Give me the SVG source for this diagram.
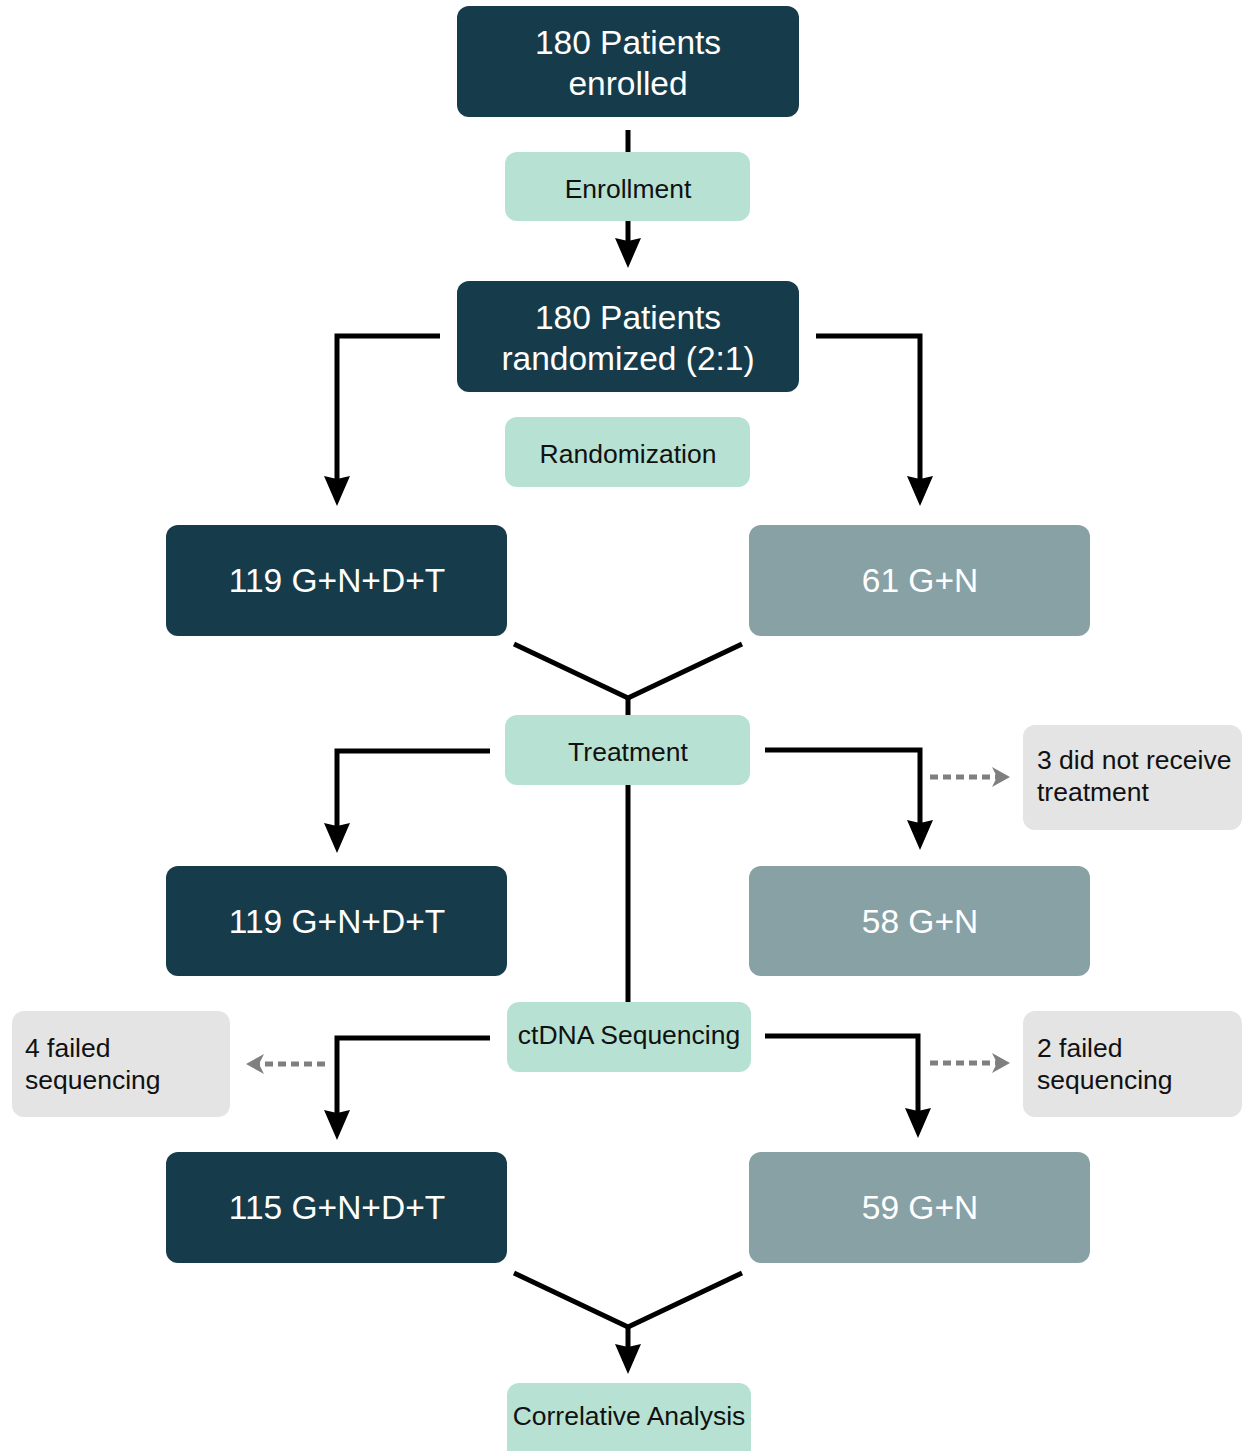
<svg xmlns="http://www.w3.org/2000/svg" width="1244" height="1451" viewBox="0 0 1244 1451">
<style>
.dark{fill:#163c4b}
.slate{fill:#87a1a5}
.mint{fill:#b7e2d3}
.grey{fill:#e4e4e4}
.tw{font-family:"Liberation Sans",Arial,sans-serif;font-size:33.5px;fill:#ffffff;text-anchor:middle}
.tg{font-family:"Liberation Sans",Arial,sans-serif;font-size:26.5px;fill:#111111;text-anchor:middle}
.tl{font-family:"Liberation Sans",Arial,sans-serif;font-size:26.5px;fill:#111111}
.ln{fill:none;stroke:#000;stroke-width:5;stroke-linejoin:miter}
.dl{fill:none;stroke:#7f7f7f;stroke-width:5;stroke-dasharray:8 5}
</style>
<defs>
<marker id="ah" markerUnits="userSpaceOnUse" viewBox="0 0 30 26" refX="20" refY="13" markerWidth="30" markerHeight="26" orient="auto">
<path d="M0,0 L30,13 L0,26 L3,13 z" fill="#000"/>
</marker>
<marker id="ahg" markerUnits="userSpaceOnUse" viewBox="0 0 18 20" refX="6" refY="10" markerWidth="18" markerHeight="20" orient="auto">
<path d="M0,0 L18,10 L0,20 L5,10 z" fill="#7f7f7f"/>
</marker>
</defs>

<g id="connectors">
<path class="ln" d="M628,130 V152"/>
<path class="ln" d="M628,221 V258" marker-end="url(#ah)"/>
<path class="ln" d="M440,336 H337 V496" marker-end="url(#ah)"/>
<path class="ln" d="M816,336 H920 V496" marker-end="url(#ah)"/>
<path class="ln" d="M514,644 L628,698 L742,644"/>
<path class="ln" d="M628,698 V715"/>
<path class="ln" d="M490,751 H337 V843" marker-end="url(#ah)"/>
<path class="ln" d="M765,750 H920 V840" marker-end="url(#ah)"/>
<path class="dl" d="M930,777 H998" marker-end="url(#ahg)"/>
<path class="ln" d="M628,785 V1002"/>
<path class="ln" d="M490,1038 H337 V1130" marker-end="url(#ah)"/>
<path class="dl" d="M325,1064 H258" marker-end="url(#ahg)"/>
<path class="ln" d="M765,1036 H918 V1128" marker-end="url(#ah)"/>
<path class="dl" d="M930,1063 H998" marker-end="url(#ahg)"/>
<path class="ln" d="M514,1273 L628,1327 L742,1273"/>
<path class="ln" d="M628,1327 V1364" marker-end="url(#ah)"/>
</g>

<g id="enrolled">
<rect class="dark" x="457" y="6" width="342" height="111" rx="12"/>
<text class="tw" x="628" y="54">180 Patients</text>
<text class="tw" x="628" y="95">enrolled</text>
</g>
<g id="enrollment">
<rect class="mint" x="505" y="152" width="245" height="69" rx="12"/>
<text class="tg" x="628" y="198">Enrollment</text>
</g>
<g id="randomized">
<rect class="dark" x="457" y="281" width="342" height="111" rx="12"/>
<text class="tw" x="628" y="329">180 Patients</text>
<text class="tw" x="628" y="370">randomized (2:1)</text>
</g>
<g id="randomization">
<rect class="mint" x="505" y="417" width="245" height="70" rx="12"/>
<text class="tg" x="628" y="463">Randomization</text>
</g>
<g id="arm1-randomized">
<rect class="dark" x="166" y="525" width="341" height="111" rx="12"/>
<text class="tw" x="337" y="592">119 G+N+D+T</text>
</g>
<g id="arm2-randomized">
<rect class="slate" x="749" y="525" width="341" height="111" rx="12"/>
<text class="tw" x="920" y="592">61 G+N</text>
</g>
<g id="treatment">
<rect class="mint" x="505" y="715" width="245" height="70" rx="12"/>
<text class="tg" x="628" y="761">Treatment</text>
</g>
<g id="no-treatment">
<rect class="grey" x="1023" y="725" width="219" height="105" rx="12"/>
<text class="tl" x="1037" y="769">3 did not receive</text>
<text class="tl" x="1037" y="801">treatment</text>
</g>
<g id="arm1-treated">
<rect class="dark" x="166" y="866" width="341" height="110" rx="12"/>
<text class="tw" x="337" y="933">119 G+N+D+T</text>
</g>
<g id="arm2-treated">
<rect class="slate" x="749" y="866" width="341" height="110" rx="12"/>
<text class="tw" x="920" y="933">58 G+N</text>
</g>
<g id="sequencing">
<rect class="mint" x="507" y="1002" width="244" height="70" rx="12"/>
<text class="tg" x="629" y="1044">ctDNA Sequencing</text>
</g>
<g id="failed-left">
<rect class="grey" x="12" y="1011" width="218" height="106" rx="12"/>
<text class="tl" x="25" y="1057">4 failed</text>
<text class="tl" x="25" y="1089">sequencing</text>
</g>
<g id="failed-right">
<rect class="grey" x="1023" y="1011" width="219" height="106" rx="12"/>
<text class="tl" x="1037" y="1057">2 failed</text>
<text class="tl" x="1037" y="1089">sequencing</text>
</g>
<g id="arm1-sequenced">
<rect class="dark" x="166" y="1152" width="341" height="111" rx="12"/>
<text class="tw" x="337" y="1219">115 G+N+D+T</text>
</g>
<g id="arm2-sequenced">
<rect class="slate" x="749" y="1152" width="341" height="111" rx="12"/>
<text class="tw" x="920" y="1219">59 G+N</text>
</g>
<g id="analysis">
<rect class="mint" x="507" y="1383" width="244" height="80" rx="12"/>
<text class="tg" x="629" y="1425">Correlative Analysis</text>
</g>
</svg>
